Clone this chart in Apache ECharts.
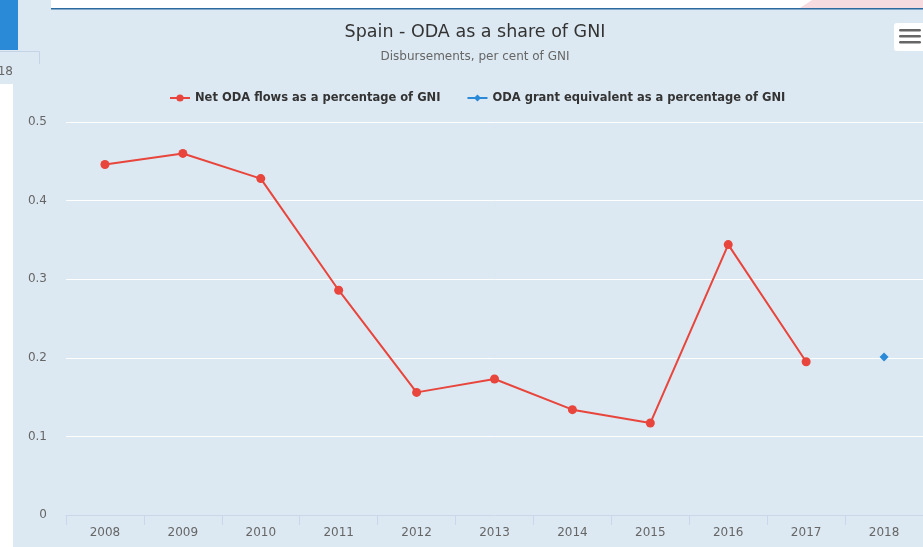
<!DOCTYPE html>
<html>
<head>
<meta charset="utf-8">
<script src="https://cdn.jsdelivr.net/npm/echarts@6/dist/echarts.min.js"></script>
<style>
html,body{margin:0;padding:0;background:#dde9f2;}
#chart{width:923px;height:547px;}
</style>
</head>
<body>
<div id="chart"></div>
<script>
const titleText = 'Spain - ODA as a share of GNI';
const subtitleText = 'Disbursements, per cent of GNI';
const years = ['2008','2009','2010','2011','2012','2013','2014','2015','2016','2017','2018'];
const netOdaName = 'Net ODA flows as a percentage of GNI';
const netOda = [0.446, 0.46, 0.428, 0.286, 0.156, 0.173, 0.134, 0.117, 0.344, 0.195, null];
const grantEqName = 'ODA grant equivalent as a percentage of GNI';
const grantEq = [null, null, null, null, null, null, null, null, null, null, 0.201];
const yTicks = [0, 0.1, 0.2, 0.3, 0.4, 0.5];

const FONT = 'DejaVu Sans';
const chart = echarts.init(document.getElementById('chart'), null, {renderer: 'canvas'});

chart.setOption({
  backgroundColor: '#dde9f2',
  animation: false,
  title: [{
    text: titleText,
    left: 470, top: 18, textAlign: 'center',
    textStyle: {fontFamily: FONT, fontSize: 17.5, fontWeight: 'normal', color: '#333333'}
  }, {
    text: subtitleText,
    left: 470, top: 46, textAlign: 'center',
    textStyle: {fontFamily: FONT, fontSize: 12, fontWeight: 'normal', color: '#666666'}
  }],
  legend: {
    top: 87, left: 164,
    itemWidth: 20, itemHeight: 9, itemGap: 26,
    textStyle: {fontFamily: FONT, fontSize: 11.5, fontWeight: 'bold', color: '#333333'},
    data: [netOdaName, grantEqName]
  },
  grid: {left: 66, right: -1, top: 122, bottom: 32},
  xAxis: {
    type: 'category',
    data: years,
    boundaryGap: true,
    axisLine: {lineStyle: {color: '#ccd6eb'}},
    axisTick: {show: true, length: 10, lineStyle: {color: '#ccd6eb'}},
    axisLabel: {fontFamily: FONT, fontSize: 12, color: '#666666', margin: 12}
  },
  yAxis: {
    type: 'value', min: yTicks[0], max: yTicks[yTicks.length - 1], interval: 0.1,
    axisLine: {show: false}, axisTick: {show: false},
    splitLine: {lineStyle: {color: '#ffffff', width: 1}},
    axisLabel: {fontFamily: FONT, fontSize: 12, color: '#666666', margin: 19,
      formatter: v => String(Math.round(v * 10) / 10)}
  },
  series: [{
    name: netOdaName, type: 'line', data: netOda,
    symbol: 'circle', symbolSize: 9,
    lineStyle: {color: '#e8453c', width: 2},
    itemStyle: {color: '#e8453c'}
  }, {
    name: grantEqName, type: 'line', data: grantEq,
    symbol: 'diamond', symbolSize: 9,
    lineStyle: {color: '#2a8ad8', width: 2},
    itemStyle: {color: '#2a8ad8'}
  }],
  graphic: [
    {type: 'rect', shape: {x: 51, y: 0, width: 872, height: 9}, style: {fill: '#ffffff'}, silent: true},
    {type: 'polygon', shape: {points: [[812, 0], [923, 0], [923, 8], [800, 8]]}, style: {fill: '#f6dbe0'}, silent: true},
    {type: 'rect', shape: {x: 51, y: 8, width: 872, height: 1.5}, style: {fill: '#2b6a9e'}, silent: true},
    {type: 'rect', shape: {x: 0, y: 0, width: 18, height: 50}, style: {fill: '#2b8ad8'}, silent: true},
    {type: 'polyline', shape: {points: [[0, 51.5], [39.5, 51.5], [39.5, 64]]}, style: {stroke: '#c5d3e6', lineWidth: 1, fill: null}, silent: true},
    {type: 'text', style: {text: '18', x: 13, y: 72, align: 'right', verticalAlign: 'middle', fontFamily: FONT, fontSize: 12, fill: '#666666'}, silent: true},
    {type: 'rect', shape: {x: 0, y: 84, width: 13, height: 463}, style: {fill: '#ffffff'}, silent: true},
    {type: 'rect', shape: {x: 894, y: 23, width: 40, height: 28, r: 3}, style: {fill: '#ffffff'}, silent: true},
    {type: 'rect', shape: {x: 899, y: 29, width: 22, height: 2.6, r: 1.3}, style: {fill: '#666666'}, silent: true},
    {type: 'rect', shape: {x: 899, y: 35, width: 22, height: 2.6, r: 1.3}, style: {fill: '#666666'}, silent: true},
    {type: 'rect', shape: {x: 899, y: 41, width: 22, height: 2.6, r: 1.3}, style: {fill: '#666666'}, silent: true}
  ]
});
</script>
</body>
</html>
